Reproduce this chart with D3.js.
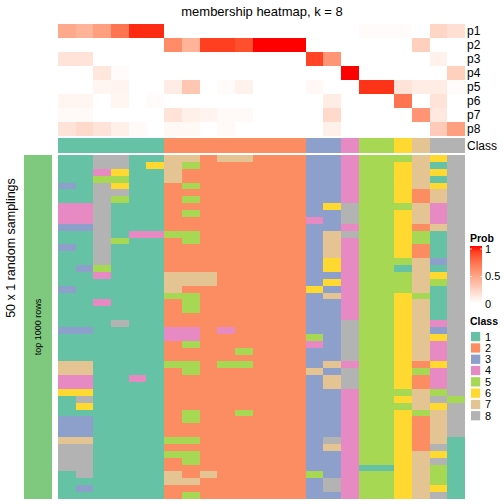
<!DOCTYPE html>
<html><head><meta charset="utf-8">
<script src="https://cdn.jsdelivr.net/npm/d3@7"></script>
<style>body{margin:0;background:#fff} text{font-family:"Liberation Sans",Arial,Helvetica,sans-serif;fill:#000}</style>
</head><body>
<svg id="chart" width="504" height="504"></svg>
<script>
// ---------- data ----------
const sampleIds = d3.range(23).map(i => "s" + (i + 1));
const classOfSample = [1,1,1,1,1,1,2,2,2,2,2,2,2,2,3,3,4,5,5,6,7,8,8];
const p1 = [0.45,0.4,0.5,0.7,0.95,0.95,0,0,0,0,0,0,0,0,0,0,0,0.02,0.02,0.02,0,0.22,0.17];
const p2 = [0,0,0,0,0,0,0.6,0.4,0.9,0.9,0.85,1,1,1,0,0,0,0,0,0,0.25,0,0];
const p3 = [0.15,0.15,0,0,0,0,0,0,0,0,0,0,0,0,0.88,0.55,0,0,0,0,0,0.07,0];
const p4 = [0,0,0.13,0.02,0,0,0,0,0,0,0,0,0,0,0,0,1,0,0,0,0,0,0.25];
const p5 = [0,0,0.05,0.06,0,0,0.1,0.3,0,0.02,0.07,0,0,0,0.04,0,0,0.93,0.93,0.15,0.1,0.1,0.02];
const p6 = [0.05,0.05,0,0.05,0,0.02,0,0,0,0,0,0,0,0,0,0.1,0,0,0,0.7,0,0.15,0];
const p7 = [0.03,0.03,0,0,0,0,0.15,0.08,0.06,0.03,0.03,0,0,0,0,0.2,0,0,0,0,0.55,0.12,0];
const p8 = [0.15,0.2,0.15,0.08,0.03,0,0.04,0.04,0,0.03,0,0,0,0,0,0.08,0,0,0,0,0,0.28,0.5];
const probRowNames = ["p1","p2","p3","p4","p5","p6","p7","p8"];
const probRows = [p1,p2,p3,p4,p5,p6,p7,p8];
const classLabels = ["1","2","3","4","5","6","7","8"];
const classColors = ["#66C2A5","#FC8D62","#8DA0CB","#E78AC3","#A6D854","#FFD92F","#E5C494","#B3B3B3"];
const probTicks = [0, 0.5, 1];
// 50 random samplings x 23 samples (class per cell)
const samplingRows = [
"118811 77277222 33 4 55 5 7 68",
"118816 75222222 33 4 55 6 7 18",
"114611 72222222 33 4 55 6 7 68",
"115511 72222222 33 4 55 6 7 18",
"318611 25222222 33 4 55 6 7 68",
"118811 22222222 33 4 55 6 2 78",
"118511 25222222 33 4 55 6 2 78",
"448111 22222222 36 8 55 5 7 48",
"448111 25222222 33 8 55 6 7 48",
"448111 22222222 43 8 55 6 7 48",
"338111 22222222 33 4 55 6 2 78",
"118144 55222222 37 8 55 6 5 18",
"118511 25222222 37 4 55 6 5 18",
"318111 22222222 37 4 55 6 2 18",
"118111 22222222 37 4 55 6 2 18",
"118111 22222222 36 4 55 5 7 38",
"135111 22222222 36 4 55 1 7 18",
"114111 77722222 33 4 55 5 7 68",
"111111 77722222 36 4 55 5 7 58",
"311111 72222222 63 4 55 5 7 18",
"111111 55222222 37 4 55 6 5 18",
"114111 25222222 33 4 55 6 7 18",
"111111 25222222 33 4 55 6 7 18",
"111111 22222222 33 4 55 6 7 18",
"111811 22222222 33 8 55 6 7 48",
"331111 44242222 33 8 55 6 7 38",
"111111 44222222 53 8 55 6 7 68",
"111111 25222222 43 8 55 6 7 48",
"111111 22225222 33 8 55 6 7 48",
"111111 22222222 33 8 55 6 7 48",
"771111 55255222 37 4 55 6 2 68",
"771111 25222222 73 8 55 6 5 48",
"441141 22222222 37 8 55 6 2 48",
"441111 22222222 37 8 55 6 2 48",
"661111 22222222 33 4 55 5 7 58",
"181111 22222222 33 4 55 6 7 85",
"161111 22222222 33 4 55 5 7 68",
"111111 25225222 33 4 55 6 5 78",
"331111 25222222 33 4 55 6 2 78",
"331111 22222222 33 4 55 6 2 78",
"331111 22222222 33 4 55 6 2 78",
"771111 55222222 38 4 55 6 2 71",
"881111 22222222 37 4 55 6 2 81",
"881111 55222222 33 4 55 6 7 61",
"881111 25222222 33 4 55 6 7 81",
"881111 22222222 33 4 11 6 7 51",
"181111 72722222 53 4 55 6 7 51",
"111111 77222222 38 4 55 6 7 51",
"131111 22222222 38 4 55 6 7 61",
"111111 25222222 33 4 55 6 7 81"
];
const titleText = "membership heatmap, k = 8";
const rowTitle = "50 x 1 random samplings";
const sliceLabel = "top 1000 rows";

// ---------- drawing ----------
const svg = d3.select("#chart");
const x = d3.scaleBand().domain(sampleIds).range([58, 465]);
const yTop = d3.scaleBand().domain(probRowNames).range([24, 136]);
const yBody = d3.scaleBand().domain(d3.range(samplingRows.length)).range([155, 499]);
const probColor = d3.scaleLinear().domain([0, 1]).range(["#FFFFFF", "#FF0000"]).interpolate(d3.interpolateLab);
const classColor = d3.scaleOrdinal().domain(classLabels).range(classColors);

svg.append("text").attr("x", 262).attr("y", 16).attr("text-anchor", "middle")
  .style("font-size", "13px").text(titleText);

// membership probability rows
const topCells = [];
probRows.forEach((row, r) => row.forEach((v, c) => topCells.push({r: probRowNames[r], c: sampleIds[c], v})));
svg.append("g").attr("shape-rendering", "crispEdges").selectAll("rect").data(topCells).join("rect")
  .attr("x", d => x(d.c)).attr("y", d => yTop(d.r))
  .attr("width", x.bandwidth()).attr("height", yTop.bandwidth())
  .attr("fill", d => probColor(d.v));
svg.append("g").selectAll("text").data(probRowNames).join("text")
  .attr("x", 467).attr("y", d => yTop(d) + yTop.bandwidth() / 2).attr("dy", "0.35em")
  .style("font-size", "12px").text(d => d);

// class annotation row
svg.append("g").attr("shape-rendering", "crispEdges").selectAll("rect").data(sampleIds).join("rect")
  .attr("x", d => x(d)).attr("y", 138).attr("width", x.bandwidth()).attr("height", 15)
  .attr("fill", (d, i) => classColor(String(classOfSample[i])));
svg.append("text").attr("x", 467).attr("y", 145.5).attr("dy", "0.35em").style("font-size", "12px").text("Class");

// sampling body
const bodyCells = [];
samplingRows.forEach((s, r) => s.replace(/ /g, "").split("").forEach((k, c) => bodyCells.push({r, c: sampleIds[c], k})));
svg.append("g").attr("shape-rendering", "crispEdges").selectAll("rect").data(bodyCells).join("rect")
  .attr("x", d => x(d.c)).attr("y", d => yBody(d.r))
  .attr("width", x.bandwidth()).attr("height", yBody.bandwidth())
  .attr("fill", d => classColor(d.k));

// left slice bar
svg.append("rect").attr("x", 24).attr("y", 155).attr("width", 28).attr("height", 344).attr("fill", "#7FC97F");
svg.append("text").attr("transform", "translate(38,327) rotate(-90)").attr("text-anchor", "middle")
  .attr("dy", "0.35em").style("font-size", "9px").text(sliceLabel);
svg.append("text").attr("transform", "translate(11,248) rotate(-90)").attr("text-anchor", "middle")
  .attr("dy", "0.35em").style("font-size", "12.5px").text(rowTitle);

// Prob legend
svg.append("text").attr("x", 470).attr("y", 242).style("font-size", "10.5px").style("font-weight", "bold").text("Prob");
const defs = svg.append("defs");
const grad = defs.append("linearGradient").attr("id", "pg").attr("x1", 0).attr("y1", 1).attr("x2", 0).attr("y2", 0);
d3.range(0, 1.001, 0.1).forEach(t => grad.append("stop").attr("offset", t).attr("stop-color", probColor(t)));
const yLeg = d3.scaleLinear().domain([0, 1]).range([304, 249]);
svg.append("rect").attr("x", 470).attr("y", 246).attr("width", 12).attr("height", 57).attr("fill", "url(#pg)");
svg.append("g").selectAll("line").data(probTicks.filter(t => t > 0)).join("g").each(function (t) {
  const g = d3.select(this);
  g.append("line").attr("x1", 470).attr("x2", 472).attr("y1", yLeg(t)).attr("y2", yLeg(t)).attr("stroke", "#fff").attr("stroke-opacity", 0.7);
  g.append("line").attr("x1", 480).attr("x2", 482).attr("y1", yLeg(t)).attr("y2", yLeg(t)).attr("stroke", "#fff").attr("stroke-opacity", 0.7);
});
svg.append("g").selectAll("text").data(probTicks).join("text")
  .attr("x", 485).attr("y", d => yLeg(d)).attr("dy", "0.35em").style("font-size", "11px").text(d => d);

// Class legend
svg.append("text").attr("x", 470).attr("y", 325).style("font-size", "10.5px").style("font-weight", "bold").text("Class");
const yCls = d3.scaleBand().domain(classLabels).range([331, 421.4]);
svg.append("g").selectAll("rect").data(classLabels).join("rect")
  .attr("x", 470.5).attr("y", d => yCls(d) + 0.5).attr("width", 10.3).attr("height", yCls.bandwidth() - 1)
  .attr("fill", d => classColor(d)).attr("stroke", "#fff").attr("stroke-width", 1);
svg.append("g").selectAll("text").data(classLabels).join("text")
  .attr("x", 485).attr("y", d => yCls(d) + yCls.bandwidth() / 2).attr("dy", "0.35em")
  .style("font-size", "11px").text(d => d);
</script>
</body></html>
